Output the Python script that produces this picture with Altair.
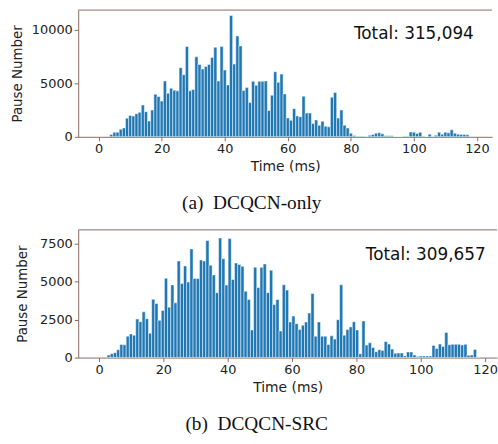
import altair as alt
import pandas as pd

# ---- data ----
top_time = list(range(4, 118))
top_count = [
    215, 430, 430, 710, 830, 1730, 2000, 1950, 2160, 2290, 2970, 2350, 1480, 2500,
    3990, 3770, 3340, 5220, 4080, 4540, 4360, 4300, 6460, 5810, 8440, 4300, 4420,
    7480, 6770, 6340, 6580, 6770, 7420, 8370, 5220, 8440, 6240, 4850, 11340, 6800,
    9430, 8500, 4330, 4600, 3200, 5190, 4820, 5190, 5190, 5220, 2470, 3890, 6090,
    5100, 5870, 4010, 1760, 1545, 2630, 1950, 1880, 3800, 2220, 2220, 1235, 1575,
    1080, 1450, 990, 930, 3700, 4140, 1760, 2500, 1080, 830, 340, 120, 60, 60, 60,
    30, 150, 215, 340, 370, 280, 90, 90, 90, 0, 0, 0, 60, 60, 460, 430, 310, 430,
    60, 0, 250, 30, 150, 430, 250, 430, 370, 650, 340, 250, 215, 215, 185,
]
top_total = "Total: 315,094"
top_caption = "(a)\u00a0 DCQCN-only"

bottom_start = 3.0
bottom_step = 0.99
bottom_count = [
    173, 260, 325, 520, 867, 845, 1410, 1560, 1475, 2540, 2360, 3010, 2560, 1600,
    3840, 3560, 2450, 3100, 5220, 3310, 4780, 3600, 6350, 4880, 6030, 4970, 7150,
    5200, 5200, 6420, 6350, 7700, 6070, 5440, 4270, 7870, 6500, 4770, 7830, 5140,
    6220, 6130, 6000, 4360, 3820, 1820, 5940, 4610, 5940, 6160, 4270, 5750, 3490,
    3820, 1750, 4790, 4440, 2340, 2730, 2230, 1840, 2120, 2340, 2930, 4210, 1410,
    2340, 1410, 1410, 867, 1430, 1215, 2490, 4790, 1475, 1840, 2020, 2360, 1820,
    260, 2410, 825, 975, 670, 390, 520, 475, 1060, 890, 560, 280, 305, 305, 108,
    370, 370, 173, 65, 108, 108, 108, 108, 800, 605, 890, 735, 1650, 845, 870, 870,
    870, 825, 870, 150, 173, 540, 20,
]
bottom_time = [round(bottom_start + bottom_step * k, 3) for k in range(len(bottom_count))]
bottom_total = "Total: 309,657"
bottom_caption = "(b)\u00a0 DCQCN-SRC"

x_ticks = [0, 20, 40, 60, 80, 100, 120]

FRAME = "#8a6a60"
BAR = "#1f77b4"
FONT = "DejaVu Sans"


def panel(times, counts, bin_w, width, height, xdom, ymax, yticks, total, tx, ty,
          title_x, caption):
    df = pd.DataFrame({"t": times, "v": counts})
    bars = alt.Chart(df).transform_calculate(
        x0=f"datum.t - {bin_w / 2}", x1=f"datum.t + {bin_w / 2}"
    ).mark_bar(color=BAR, stroke="white", strokeWidth=0.5, clip=True).encode(
        x=alt.X(
            "x0:Q",
            scale=alt.Scale(domain=xdom, nice=False, zero=False),
            axis=alt.Axis(
                values=x_ticks, title="Time (ms)", grid=False, labelFont=FONT,
                labelFontSize=13, labelColor="#222", titleFont=FONT, titleFontSize=14,
                titleFontWeight="normal", titleColor="#222", domainColor=FRAME,
                tickColor=FRAME, tickSize=4, labelPadding=2, titlePadding=4,
                labelFlush=False,
            ),
        ),
        x2="x1:Q",
        y=alt.Y(
            "v:Q",
            scale=alt.Scale(domain=[0, ymax], nice=False),
            axis=alt.Axis(
                values=yticks, format="d", title="Pause Number", grid=False,
                labelFont=FONT, labelFontSize=13, labelColor="#222", titleFont=FONT,
                titleFontSize=13.5, titleFontWeight="normal", titleColor="#222",
                domainColor=FRAME, tickColor=FRAME, tickSize=4, labelPadding=2,
                titleX=title_x, titleBaseline="middle",
            ),
        ),
        y2=alt.datum(0),
    )
    spine = alt.Chart(pd.DataFrame({"a": [0]})).mark_rule(
        color=FRAME, strokeWidth=1
    ).encode(x=alt.value(0), x2=alt.value(width), y=alt.value(0))
    label = alt.Chart(pd.DataFrame({"a": [0]})).mark_text(
        text=total, font=FONT, fontSize=17, color="#111", align="center",
        baseline="middle",
    ).encode(x=alt.value(tx), y=alt.value(ty))
    return alt.layer(bars, spine, label).properties(
        width=width,
        height=height,
        title=alt.TitleParams(
            caption, orient="bottom", font="Liberation Serif", fontSize=19.5,
            fontWeight="normal", color="#111", offset=21, anchor="middle",
            frame="bounds",
        ),
    )


top = panel(top_time, top_count, 1.0, 418, 128, [-6.5, 124.8], 11850,
            [0, 5000, 10000], top_total, 339, 24, -61, top_caption)
bottom = panel(bottom_time, bottom_count, bottom_step, 423, 129, [-6.46, 123.7], 8400,
               [0, 2500, 5000, 7500], bottom_total, 351, 25, -56, bottom_caption)

chart = alt.concat(top, bottom, columns=1, spacing=16, align="none").properties(
    padding={"left": 11, "top": 7, "right": 0, "bottom": 0},
    background="white",
).configure_view(stroke=None)

chart.save("out.html", embed_options={"renderer": "svg", "actions": False})
